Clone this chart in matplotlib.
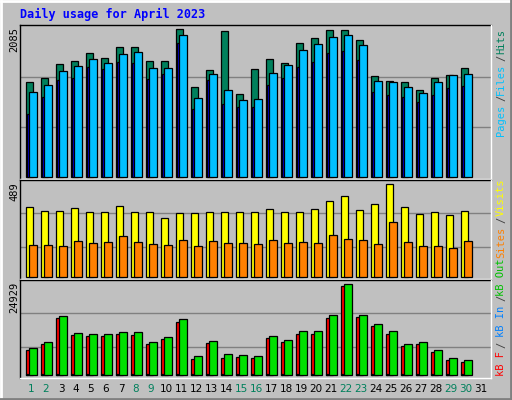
import matplotlib
matplotlib.use("Agg")
import matplotlib.pyplot as plt
from matplotlib.lines import Line2D
import numpy as np

days = list(range(1, 32))
hits = [1333,1390,1588,1631,1744,1673,1829,1829,1631,1631,2085,1262,1503,2056,1163,1517,1659,1602,1886,1957,2070,2070,1928,1418,1347,1333,1219,1390,1432,1531,0]
files = [1191,1290,1489,1560,1659,1602,1730,1758,1531,1531,1999,1106,1446,1219,1078,1092,1460,1574,1787,1872,1971,1999,1858,1347,1333,1262,1177,1333,1432,1446,0]
pages = [880,1130,1360,1400,1550,1520,1620,1600,1380,1450,1890,960,1360,1020,980,990,1300,1400,1550,1620,1750,1780,1650,1200,1150,1120,1050,1150,1250,1280,0]
visits = [368,347,347,362,341,341,373,341,341,310,336,336,341,341,341,341,357,341,341,357,399,426,352,383,489,368,331,341,325,347,0]
sites = [167,167,162,188,178,183,215,183,172,167,194,162,188,178,178,172,194,178,183,178,220,199,194,172,289,183,162,162,151,188,0]
kb_f = [6850,8490,15610,10960,10680,10680,11230,10960,8490,9860,14520,4380,8770,4660,4930,4660,10140,9040,11230,11230,15610,24380,15890,13420,11230,7940,8490,6300,4110,3560,0]
kb_in = [400]*30 + [0]
kb_out = [7397,9040,16170,11510,11230,11230,11780,11780,9040,10410,15340,5200,9320,5750,5480,5200,10690,9590,12060,12060,16440,24929,16440,13970,12060,8490,9040,6850,4660,4110,0]
weekend = {1,2,8,9,15,16,22,23,29,30}

W, H = 512, 400
fig = plt.figure(figsize=(5.12, 4.0), dpi=100)
fig.patch.set_facecolor("#C0C0C0")
def fx(x): return x / W
def fy(y): return 1 - y / H
def line(x0, y0, x1, y1, c, lw=1):
    fig.add_artist(Line2D([fx(x0), fx(x1)], [fy(y0), fy(y1)], color=c, lw=lw, transform=fig.transFigure))

# outer bevel
line(1, 1, 511, 1, "white", 2); line(1, 1, 1, 399, "white", 2)
line(511, 0, 511, 399, "#808080", 2); line(0, 399, 511, 399, "#808080", 2)

mono = "DejaVu Sans Mono"
fig.text(fx(20), fy(14), "Daily usage for April 2023", color="#0000FF", fontsize=8.5,
         fontweight="bold", family=mono, va="center", ha="left")

x = np.array(days, dtype=float)
L, R = 20, 491
xlim = (0.62, 0.62 + (R - L) / 15)

def panel(top, bot, base, scale_px, vmax_px_val, grids):
    ax = fig.add_axes([fx(L), fy(bot), fx(R) - fx(L), (bot - top) / H])
    ax.set_facecolor("#C0C0C0")
    per = vmax_px_val  # value per pixel
    ax.set_ylim(-(bot - base) * per, (base - top) * per)
    ax.set_xlim(*xlim)
    for s in ax.spines.values(): s.set_visible(False)
    ax.set_xticks([]); ax.set_yticks([])
    for g in grids:
        ax.axhline(g, color="#808080", lw=1, zorder=0)
    line(L, top, R, top, "black"); line(L, top, L, bot, "black")
    line(L, bot, R, bot, "white"); line(R, top, R, bot, "white")
    return ax

def bars(ax, vals, off, w, color):
    v = np.array(vals, dtype=float)
    m = v > 0
    ax.bar(x[m] + off, v[m], width=w, align="edge", color=color, edgecolor="black", linewidth=0.9, zorder=2)

# panel 1
per1 = 2085 / (176.7 - 29)
ax1 = panel(25, 179, 176.7, 150, per1, [50 * per1, 100 * per1])
bars(ax1, hits, 0.0, 0.49, "#00805C")
bars(ax1, pages, 0.07, 0.12, "#0000FF")
bars(ax1, files, 0.22, 0.51, "#00C0FF")

# panel 2
per2 = 489 / (276.7 - 184)
ax2 = panel(180, 279.3, 276.7, 100, per2, [30 * per2, 63.4 * per2])
bars(ax2, visits, 0.0, 0.49, "#FFFF00")
bars(ax2, sites, 0.22, 0.51, "#FF8000")

# panel 3
per3 = 24929 / (375.3 - 284.3)
ax3 = panel(280, 378.3, 375.3, 95, per3, [28.6 * per3, 62 * per3])
bars(ax3, kb_f, 0.0, 0.49, "#FF0000")
bars(ax3, kb_in, 0.03, 0.12, "#0080FF")
bars(ax3, kb_out, 0.22, 0.51, "#00E000")

# y max labels
for txt, y in [("2085", 27), ("489", 182), ("24929", 282)]:
    fig.text(fx(14), fy(y), txt, rotation=90, fontsize=7.5, family=mono, ha="center", va="top")

# right side labels
rl = [("Hits", 42, "#00805C"), ("/", 58, "#404040"), ("Files", 79, "#00C0FF"), ("/", 98, "#404040"),
      ("Pages", 120, "#00C0FF"), ("Visits", 197, "#FFFF00"), ("/", 220, "#404040"),
      ("Sites", 242, "#FF8000"), ("kB Out", 277, "#00C000"), ("/", 298, "#404040"),
      ("kB In", 321, "#0080FF"), ("/", 345, "#404040"), ("kB F", 363, "#FF0000")]
for t, y, c in rl:
    fig.text(fx(501), fy(y), t, rotation=90, fontsize=7.5, family=mono, color=c, ha="center", va="center")

# day labels
for d in days:
    fig.text(fx(31 + 15 * (d - 1)), fy(389), str(d), fontsize=7.5, family="DejaVu Sans",
             color="#00805C" if d in weekend else "black", ha="center", va="center")

fig.savefig("out.png", dpi=100, facecolor=fig.get_facecolor())
